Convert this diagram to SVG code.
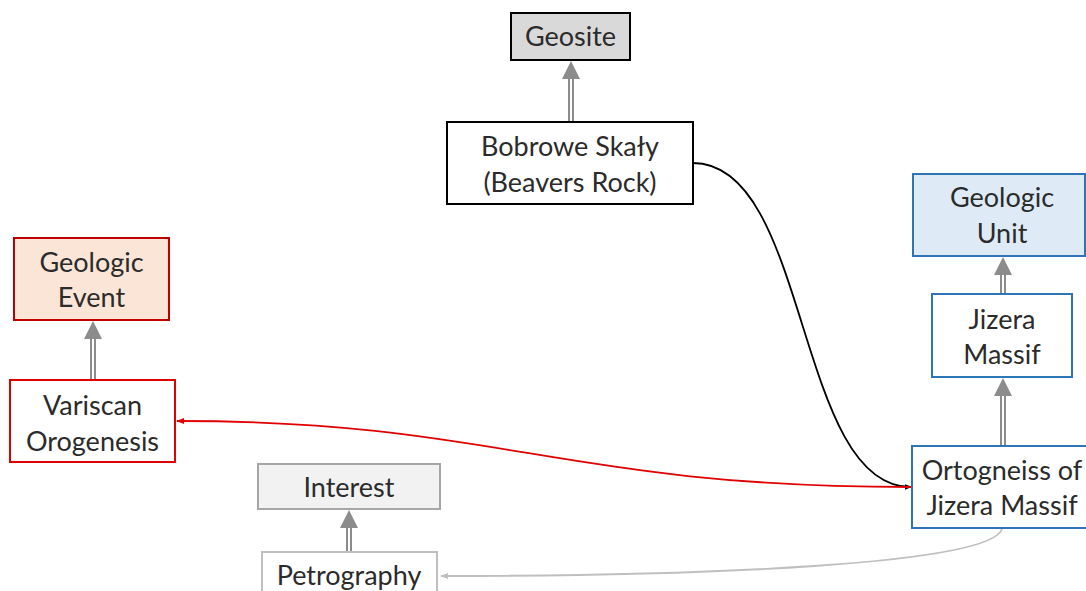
<svg xmlns="http://www.w3.org/2000/svg" width="1086" height="591" viewBox="0 0 1086 591">
  <defs>
    <style>
      .lbl { font-family: Lato, "Open Sans", "Liberation Sans", sans-serif; font-size: 27px; font-weight: 400; fill: #2b2b2b; text-anchor: middle; }
      .box { stroke-width: 2; }
      .gen-out { stroke: #8c8c8c; stroke-width: 6; fill: none; }
      .gen-in { stroke: #ffffff; stroke-width: 2; fill: none; }
      .gen-head { fill: #8c8c8c; }
    </style>
    <marker id="headBlack" viewBox="0 0 10 10" refX="9" refY="5" markerWidth="7" markerHeight="7" orient="auto" markerUnits="userSpaceOnUse">
      <path d="M0,1 L10,5 L0,9 z" fill="#000"/>
    </marker>
    <marker id="headRed" viewBox="0 0 10 10" refX="9" refY="5" markerWidth="8" markerHeight="8" orient="auto" markerUnits="userSpaceOnUse">
      <path d="M0,1 L10,5 L0,9 z" fill="#e00000"/>
    </marker>
    <marker id="headGray" viewBox="0 0 10 10" refX="9" refY="5" markerWidth="8" markerHeight="8" orient="auto" markerUnits="userSpaceOnUse">
      <path d="M0,1 L10,5 L0,9 z" fill="#bfbfbf"/>
    </marker>
  </defs>

  <rect width="1086" height="591" fill="#ffffff"/>

  <!-- connectors -->
  <g id="connectors">
    <!-- subclass (generalisation) arrows: double grey shaft + filled head -->
    <g id="gen-geosite">
      <line class="gen-out" x1="571" y1="122" x2="571" y2="78"/>
      <line class="gen-in" x1="571" y1="121" x2="571" y2="78"/>
      <polygon class="gen-head" points="571,61 562,79 580,79"/>
    </g>
    <g id="gen-event">
      <line class="gen-out" x1="93" y1="380" x2="93" y2="337"/>
      <line class="gen-in" x1="93" y1="379" x2="93" y2="337"/>
      <polygon class="gen-head" points="93,321 84,339 102,339"/>
    </g>
    <g id="gen-unit">
      <line class="gen-out" x1="1003" y1="294" x2="1003" y2="273"/>
      <line class="gen-in" x1="1003" y1="293" x2="1003" y2="273"/>
      <polygon class="gen-head" points="1003,257 994,275 1012,275"/>
    </g>
    <g id="gen-massif">
      <line class="gen-out" x1="1003" y1="446" x2="1003" y2="394"/>
      <line class="gen-in" x1="1003" y1="445" x2="1003" y2="394"/>
      <polygon class="gen-head" points="1003,378 994,396 1012,396"/>
    </g>
    <g id="gen-interest">
      <line class="gen-out" x1="349" y1="552" x2="349" y2="526"/>
      <line class="gen-in" x1="349" y1="551" x2="349" y2="526"/>
      <polygon class="gen-head" points="349,510 340,528 358,528"/>
    </g>

    <!-- relations -->
    <path d="M693,163 C810,163 795,487 911,487" fill="none" stroke="#000" stroke-width="1.8" marker-end="url(#headBlack)"/>
    <path d="M911,487 C560,487 500,421 177,421" fill="none" stroke="#e00000" stroke-width="1.8" marker-end="url(#headRed)"/>
    <path d="M1002,529 C990,565 700,576 441,576" fill="none" stroke="#bfbfbf" stroke-width="1.8" marker-end="url(#headGray)"/>
  </g>

  <!-- nodes -->
  <g id="geosite">
    <rect class="box" x="511" y="13" width="119" height="47" fill="#d9d9d9" stroke="#000"/>
    <text class="lbl" x="570.5" y="46">Geosite</text>
  </g>

  <g id="bobrowe-skaly">
    <rect class="box" x="447" y="122" width="246" height="82" fill="#ffffff" stroke="#000"/>
    <text class="lbl" x="570" y="156">Bobrowe Skały</text>
    <text class="lbl" x="570" y="192">(Beavers Rock)</text>
  </g>

  <g id="geologic-event">
    <rect class="box" x="14" y="238" width="155" height="82" fill="#fbe5d6" stroke="#c00000"/>
    <text class="lbl" x="91.5" y="272">Geologic</text>
    <text class="lbl" x="91.5" y="307">Event</text>
  </g>

  <g id="variscan-orogenesis">
    <rect class="box" x="10" y="380" width="165" height="82" fill="#ffffff" stroke="#e00000"/>
    <text class="lbl" x="92.5" y="415">Variscan</text>
    <text class="lbl" x="92.5" y="451">Orogenesis</text>
  </g>

  <g id="geologic-unit">
    <rect class="box" x="913" y="174" width="172" height="82" fill="#deebf7" stroke="#2e75b6"/>
    <text class="lbl" x="1002" y="207">Geologic</text>
    <text class="lbl" x="1002" y="243">Unit</text>
  </g>

  <g id="jizera-massif">
    <rect class="box" x="932" y="294" width="140" height="83" fill="#ffffff" stroke="#2e75b6"/>
    <text class="lbl" x="1002" y="329">Jizera</text>
    <text class="lbl" x="1002" y="364">Massif</text>
  </g>

  <g id="ortogneiss">
    <rect class="box" x="912" y="446" width="175" height="82" fill="#ffffff" stroke="#2e75b6"/>
    <text class="lbl" x="1002" y="480">Ortogneiss of</text>
    <text class="lbl" x="1002" y="515">Jizera Massif</text>
  </g>

  <g id="interest">
    <rect class="box" x="258" y="464" width="182" height="45" fill="#f2f2f2" stroke="#a6a6a6"/>
    <text class="lbl" x="349" y="497">Interest</text>
  </g>

  <g id="petrography">
    <rect class="box" x="262" y="552" width="175" height="50" fill="#ffffff" stroke="#bfbfbf"/>
    <text class="lbl" x="349" y="585">Petrography</text>
  </g>
</svg>
